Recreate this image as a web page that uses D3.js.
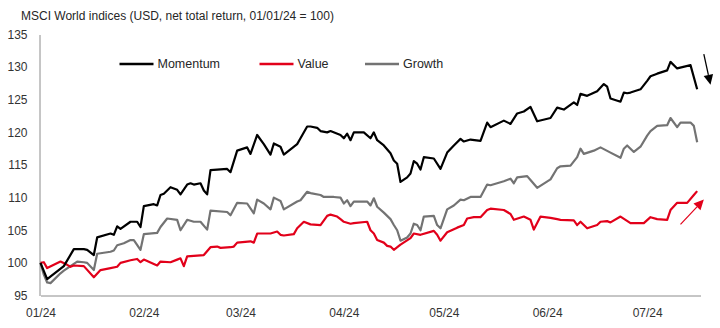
<!DOCTYPE html>
<html>
<head>
<meta charset="utf-8">
<script src="https://cdn.jsdelivr.net/npm/d3@7"></script>
<style>
  html, body { margin: 0; padding: 0; background: #fff; }
  svg { display: block; font-family: "Liberation Sans", Arial, Helvetica, sans-serif; }
</style>
</head>
<body>
<svg id="chart" width="720" height="328"></svg>
<script>
// ---------- DATA ----------
const title = "MSCI World indices (USD, net total return, 01/01/24 = 100)";
const seriesNames = ["Momentum", "Value", "Growth"];

const momentumDates = ["01-01","01-03","01-08","01-11","01-14","01-15","01-17","01-18","01-22","01-23","01-24","01-25","01-28","01-30","01-31",
  "02-01","02-04","02-05","02-06","02-07","02-09","02-11","02-12","02-14","02-15","02-16","02-18","02-19","02-20","02-21","02-26","02-27","02-29",
  "03-03","03-04","03-06","03-08","03-10","03-11","03-13","03-14","03-18","03-19","03-21","03-22","03-24","03-25","03-27","03-28","03-31",
  "04-01","04-02","04-03","04-04","04-07","04-09","04-10","04-11","04-13","04-15","04-16","04-17","04-18","04-20","04-21","04-22","04-23","04-24","04-25","04-28","04-30",
  "05-02","05-04","05-06","05-07","05-09","05-12","05-14","05-15","05-19","05-21","05-23","05-25","05-27","05-29",
  "06-02","06-04","06-06","06-09","06-10","06-11","06-13","06-16","06-18","06-19","06-20","06-23","06-24","06-25","06-26","06-29",
  "07-01","07-02","07-04","07-07","07-08","07-10","07-14","07-16"];
const momentumValues = [100,97.5,99.5,102.1,102.1,102.0,101.2,103.9,104.5,104.3,105.6,105.2,106.3,106.3,105.5,
  108.7,109.0,108.8,110.4,110.6,111.6,111.2,110.5,112.0,112.2,112.0,112.2,111.1,110.5,114.2,114.4,113.9,117.2,
  117.7,116.7,119.6,118.2,116.6,118.3,117.8,116.6,118.2,119.1,120.9,120.9,120.7,120.2,120.0,120.2,119.6,
  119.1,119.8,118.8,120.0,120.0,119.1,120.0,118.8,118.0,116.8,115.7,115.2,112.4,113.1,113.7,115.6,115.2,114.3,116.2,116.0,114.4,
  116.9,118.0,119.0,118.6,118.9,118.7,121.5,120.8,121.8,121.3,122.9,123.2,123.9,121.7,
  122.2,123.8,123.5,124.6,124.2,125.9,125.6,126.3,127.4,127.0,125.2,124.7,126.1,126.0,126.1,126.6,
  127.9,128.6,129.0,129.5,130.8,129.8,130.3,126.6];

const valueDates = ["01-01","01-02","01-03","01-05","01-07","01-09","01-10","01-11","01-14","01-17","01-19","01-22","01-24","01-25","01-28","01-30","01-31",
  "02-01","02-05","02-06","02-09","02-11","02-12","02-13","02-14","02-19","02-21","02-23","02-24","02-27","02-28","02-29",
  "03-04","03-05","03-06","03-10","03-12","03-13","03-14","03-17","03-18","03-20","03-22","03-25","03-27","03-28","03-30","03-31",
  "04-01","04-03","04-04","04-08","04-09","04-10","04-11","04-13","04-14","04-15","04-16","04-18","04-21","04-22","04-24","04-28","04-29","04-30",
  "05-02","05-05","05-07","05-08","05-10","05-12","05-14","05-15","05-19","05-21","05-22","05-25","05-27","05-28","05-30",
  "06-02","06-04","06-05","06-09","06-10","06-11","06-13","06-16","06-17","06-19","06-20","06-23","06-26","06-30",
  "07-02","07-04","07-07","07-08","07-10","07-13","07-15","07-16"];
const valueValues = [100,100.1,99.2,99.7,100.2,99.7,99.4,99.6,99.5,97.8,98.9,99.2,99.4,100.0,100.4,100.6,100.1,
  100.5,99.6,100.2,100.1,100.5,100.7,99.5,101.0,101.2,102.4,102.5,102.3,102.4,102.5,103.1,
  103.3,103.1,104.5,104.5,104.8,104.3,104.2,104.4,105.3,106.3,105.9,105.8,107.2,107.4,107.1,106.7,
  106.3,106.0,106.1,106.3,105.0,104.5,103.5,103.1,102.6,102.5,102.0,102.8,103.8,104.5,104.3,104.9,104.3,103.4,
  104.7,105.4,105.8,106.8,107.0,107.0,108.1,108.3,108.1,107.5,106.6,107.1,106.6,105.1,107.1,
  106.9,106.7,106.6,106.5,105.8,106.3,105.3,105.8,106.3,106.4,106.2,107.1,106.1,106.1,
  107.0,106.7,106.6,108.1,109.2,109.2,110.4,111.0];

const growthDates = ["01-01","01-02","01-03","01-04","01-07","01-08","01-10","01-12","01-14","01-15","01-17","01-18","01-22","01-23","01-24","01-26","01-28","01-29","01-31",
  "02-01","02-05","02-06","02-08","02-11","02-12","02-14","02-16","02-18","02-20","02-21","02-26","02-27","02-29",
  "03-03","03-05","03-06","03-08","03-10","03-11","03-13","03-14","03-18","03-19","03-21","03-22","03-25","03-26","03-29","03-31",
  "04-01","04-02","04-03","04-04","04-08","04-09","04-10","04-11","04-13","04-15","04-16","04-17","04-18","04-20","04-21","04-22","04-23","04-24","04-25","04-28","04-29","04-30",
  "05-02","05-04","05-06","05-07","05-09","05-12","05-14","05-15","05-19","05-21","05-22","05-23","05-26","05-27","05-29",
  "06-02","06-04","06-05","06-08","06-10","06-11","06-12","06-15","06-17","06-20","06-23","06-24","06-25","06-27","06-29",
  "07-01","07-02","07-04","07-07","07-08","07-10","07-11","07-14","07-15","07-16"];
const growthValues = [100,98.2,97.0,96.9,98.4,98.8,99.5,100.2,100.1,100.0,98.9,101.4,101.7,101.9,102.7,103.0,103.5,103.5,102.0,
  104.4,104.6,105.5,106.8,106.6,105.0,106.6,106.3,106.3,105.1,108.0,107.8,107.3,109.2,
  109.1,107.6,109.7,109.1,108.2,110.0,109.5,108.2,109.4,109.6,110.9,110.7,110.4,110.1,110.1,110.0,
  109.1,109.6,108.7,109.4,109.4,108.8,109.9,108.6,107.7,106.7,105.8,105.0,103.4,103.9,104.5,106.0,105.8,105.0,107.1,107.2,105.8,105.3,
  108.2,108.8,109.7,109.6,110.1,110.1,112.0,111.9,112.5,112.9,112.2,113.1,113.3,112.7,111.5,
  112.8,114.5,114.8,114.9,116.2,117.5,116.7,117.2,117.7,116.9,116.1,117.5,118.0,117.0,117.8,
  119.5,120.2,121.0,121.1,122.2,120.8,121.5,121.5,121.0,118.5];

const seriesColors = ["#000000", "#e2001a", "#737373"];
const yTicks = [95, 100, 105, 110, 115, 120, 125, 130, 135];
const xTickDates = ["01-01","02-01","03-01","04-01","05-01","06-01","07-01"];
const xTickLabels = ["01/24","02/24","03/24","04/24","05/24","06/24","07/24"];
const xDomain = ["01-01", "07-17"];
const yDomain = [95, 135];
// annotation arrows: [start, end] in (date, index value)
const arrowMomentum = [["07-18", 132.0], ["07-20", 127.3]];
const arrowValue = [["07-11", 105.9], ["07-18", 109.7]];

// ---------- CHART ----------
const parse = s => d3.timeParse("%Y-%m-%d")("2024-" + s);
const svg = d3.select("#chart");
const fontFamily = '"Liberation Sans", Arial, Helvetica, sans-serif';

const x = d3.scaleTime().domain(xDomain.map(parse)).range([40.5, 700.5]);
const y = d3.scaleLinear().domain(yDomain).range([295.5, 34.5]);

svg.append("text")
  .attr("x", 21).attr("y", 20)
  .attr("font-size", 12).attr("fill", "#262626")
  .text(title);

// y axis
const gy = svg.append("g").attr("transform", "translate(39.5,0)")
  .call(d3.axisLeft(y).tickValues(yTicks).tickSize(0).tickSizeOuter(0).tickPadding(12).tickFormat(d3.format("d")));
gy.select(".domain").attr("stroke", "#8c8c8c").attr("stroke-width", 1);
gy.selectAll("text").attr("font-size", 12).attr("fill", "#333").attr("font-family", fontFamily);

// x axis
const gx = svg.append("g").attr("transform", "translate(0,295.5)")
  .call(d3.axisBottom(x).tickValues(xTickDates.map(parse)).tickSize(0).tickSizeOuter(0).tickPadding(13)
    .tickFormat((d, i) => xTickLabels[i]));
gx.select(".domain").attr("stroke", "#8c8c8c").attr("stroke-width", 1);
gx.selectAll("text").attr("font-size", 12).attr("fill", "#333").attr("font-family", fontFamily);

// lines
const series = [
  { name: seriesNames[0], dates: momentumDates, values: momentumValues, color: seriesColors[0] },
  { name: seriesNames[1], dates: valueDates, values: valueValues, color: seriesColors[1] },
  { name: seriesNames[2], dates: growthDates, values: growthValues, color: seriesColors[2] }
];
const line = d3.line().x(d => x(d[0])).y(d => y(d[1]));
const drawOrder = [2, 1, 0];
drawOrder.forEach(i => {
  const s = series[i];
  const pts = s.dates.map((dt, j) => [parse(dt), s.values[j]]);
  svg.append("path")
    .datum(pts)
    .attr("d", line)
    .attr("fill", "none")
    .attr("stroke", s.color)
    .attr("stroke-width", 2.2)
    .attr("stroke-linejoin", "round");
});

// legend
const legendX = [119.5, 259.5, 365];
const legend = svg.append("g");
series.forEach((s, i) => {
  const g = legend.append("g").attr("transform", `translate(${legendX[i]},64)`);
  g.append("line").attr("x1", 0).attr("x2", 34).attr("y1", 0).attr("y2", 0)
    .attr("stroke", s.color).attr("stroke-width", 2.5);
  g.append("text").attr("x", 38).attr("y", 0).attr("dy", "0.35em")
    .attr("font-size", 12.5).attr("fill", "#262626").text(s.name);
});

// arrows
function arrow(a, color, width) {
  const x1 = x(parse(a[0][0])), y1 = y(a[0][1]);
  const x2 = x(parse(a[1][0])), y2 = y(a[1][1]);
  const ang = Math.atan2(y2 - y1, x2 - x1);
  const L = 10, W = 4.8;
  const bx = x2 - L * Math.cos(ang), by = y2 - L * Math.sin(ang);
  svg.append("line").attr("x1", x1).attr("y1", y1).attr("x2", bx).attr("y2", by)
    .attr("stroke", color).attr("stroke-width", width);
  const p = [[x2, y2],
    [bx + W * Math.sin(ang), by - W * Math.cos(ang)],
    [bx - W * Math.sin(ang), by + W * Math.cos(ang)]];
  svg.append("path").attr("d", "M" + p.map(q => q.join(",")).join("L") + "Z").attr("fill", color);
}
arrow(arrowMomentum, seriesColors[0], 1.3);
arrow(arrowValue, seriesColors[1], 1.2);
</script>
</body>
</html>
